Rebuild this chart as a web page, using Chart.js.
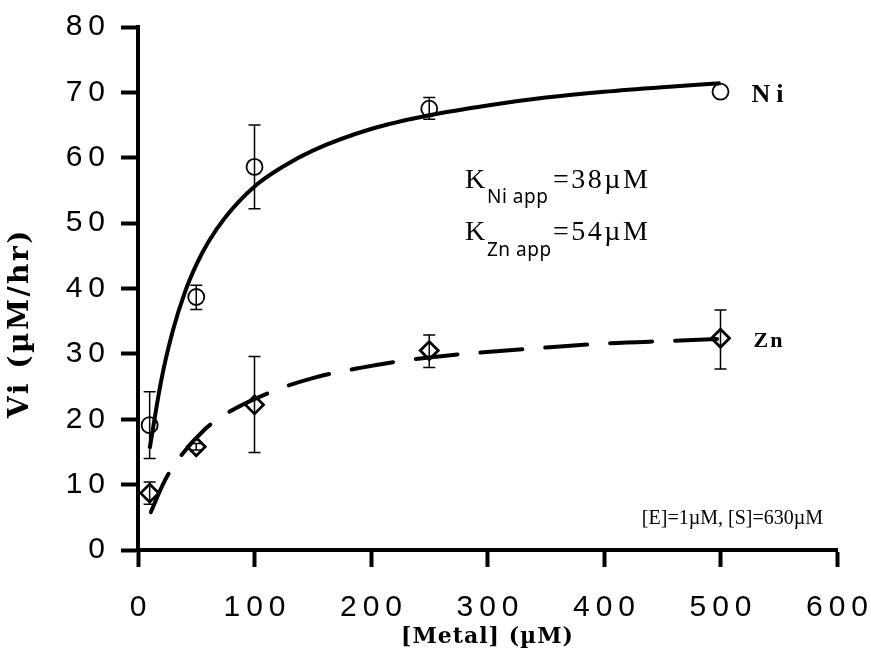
<!DOCTYPE html>
<html>
<head>
<meta charset="utf-8">
<script src="https://cdn.jsdelivr.net/npm/chart.js@4"></script>
<style>
  body { margin: 0; background: #fff; }
  canvas { display: block; }
</style>
</head>
<body>
<canvas id="kinChart" width="871" height="648"></canvas>
<script>
// --- 1. Data ---
const xTicks = [0, 100, 200, 300, 400, 500, 600];
const yTicks = [0, 10, 20, 30, 40, 50, 60, 70, 80];

// measured points (metal concentration, µM)
const metalConc = [10, 50, 100, 250, 500];
const niRate = [19.1, 38.7, 58.6, 67.5, 70.1];
const niLow = [14.0, 36.8, 52.2, 65.9, 70.1];
const niHigh = [24.2, 40.5, 65.0, 69.2, 70.1];
const znRate = [8.7, 15.8, 22.2, 30.5, 32.4];
const znLow = [7.0, 15.3, 14.9, 27.9, 27.7];
const znHigh = [10.4, 16.3, 29.6, 32.9, 36.7];

// fitted curves
const niFitX = [10, 20, 30, 40, 50, 60, 75, 100, 125, 150, 200, 250, 300, 350, 400, 450, 500];
const niFitY = [15.5, 26.0, 33.6, 39.3, 43.6, 47.0, 50.9, 55.6, 58.7, 61.1, 64.4, 66.5, 68.0, 69.2, 70.1, 70.8, 71.4];
const znFitX = [11, 23, 33, 57, 78, 116, 150, 192, 229, 252, 287, 345, 402, 459, 500];
const znFitY = [5.8, 10.6, 13.5, 18.4, 21.1, 24.3, 26.3, 27.9, 29.0, 29.5, 30.1, 30.9, 31.6, 32.0, 32.3];

const toPoints = (xs, ys) => xs.map((x, i) => ({ x: x, y: ys[i] }));

// --- 2. Error bars drawn through the scales ---
const errorBars = {
    id: 'errorBars',
    afterDatasetsDraw(chart) {
        const { ctx, scales: { x, y } } = chart;
        ctx.save();
        ctx.strokeStyle = '#000';
        ctx.lineWidth = 1.5;
        [[niLow, niHigh], [znLow, znHigh]].forEach(([lows, highs]) => {
            metalConc.forEach((c, i) => {
                if (lows[i] === highs[i]) return;
                const px = x.getPixelForValue(c);
                const top = y.getPixelForValue(highs[i]);
                const bot = y.getPixelForValue(lows[i]);
                ctx.beginPath();
                ctx.moveTo(px, top); ctx.lineTo(px, bot);
                ctx.moveTo(px - 6, top); ctx.lineTo(px + 6, top);
                ctx.moveTo(px - 6, bot); ctx.lineTo(px + 6, bot);
                ctx.stroke();
            });
        });
        ctx.restore();
    }
};

// --- 3. Labels, constants and axis titles ---
function drawText(ctx, txt, x, y, font, spacing, align) {
    ctx.font = font;
    ctx.letterSpacing = spacing || '0px';
    ctx.textAlign = align || 'left';
    ctx.fillText(txt, x, y);
}

const annotations = {
    id: 'annotations',
    afterDraw(chart) {
        const { ctx, scales: { x, y } } = chart;
        ctx.save();
        ctx.fillStyle = '#000';
        ctx.textBaseline = 'alphabetic';

        // series names next to the last point
        const lastX = x.getPixelForValue(metalConc[4]);
        drawText(ctx, 'Ni', lastX + 31, y.getPixelForValue(niRate[4]) + 10, 'bold 26px "Liberation Serif"', '6px');
        drawText(ctx, 'Zn', lastX + 33, y.getPixelForValue(znRate[4]) + 9, 'bold 22px "Liberation Serif"', '2px');

        // apparent constants
        drawText(ctx, 'K', 465, 188, '28px "Liberation Serif"', '0px');
        drawText(ctx, 'Ni app', 487, 203, '19px "Noto Sans"', '0.5px');
        drawText(ctx, '=38\u00b5M', 553, 188, '28px "Liberation Serif"', '2.5px');
        drawText(ctx, 'K', 465, 240, '28px "Liberation Serif"', '0px');
        drawText(ctx, 'Zn app', 487, 256, '19px "Noto Sans"', '0.5px');
        drawText(ctx, '=54\u00b5M', 553, 240, '28px "Liberation Serif"', '2.5px');

        // conditions
        drawText(ctx, '[E]=1\u00b5M, [S]=630\u00b5M', 823, 524, '20px "Liberation Serif"', '0px', 'right');

        // axis titles
        drawText(ctx, '[Metal] (\u00b5M)', (chart.chartArea.left + chart.chartArea.right) / 2, 643, 'bold 22px "DejaVu Serif"', '1px', 'center');
        ctx.translate(28, 323);
        ctx.rotate(-Math.PI / 2);
        drawText(ctx, 'Vi (\u00b5M/hr)', 0, 0, 'bold 28px "DejaVu Serif"', '2.5px', 'center');
        ctx.restore();
    }
};

// --- 4. Build the chart ---
const spaced = v => String(v).split('').join('\u2009');
const tickFont = { family: '"Liberation Sans", Arial, sans-serif', size: 30 };

// keep the plot box fixed: no extra room for half-labels
const fixBox = (s, w, h) => {
    if (w) s.width = w;
    if (h) s.height = h;
    s.paddingLeft = s.paddingRight = s.paddingTop = s.paddingBottom = 0;
};

new Chart(document.getElementById('kinChart').getContext('2d'), {
    type: 'scatter',
    data: {
        datasets: [
            {
                label: 'Ni fit',
                data: toPoints(niFitX, niFitY),
                showLine: true,
                borderColor: '#000',
                borderWidth: 4,
                pointRadius: 0,
                cubicInterpolationMode: 'monotone',
                order: 2
            },
            {
                label: 'Zn fit',
                data: toPoints(znFitX, znFitY),
                showLine: true,
                borderColor: '#000',
                borderWidth: 4,
                borderDash: [42, 23],
                borderCapStyle: 'round',
                pointRadius: 0,
                cubicInterpolationMode: 'monotone',
                order: 2
            },
            {
                label: 'Ni',
                data: toPoints(metalConc, niRate),
                pointStyle: 'circle',
                pointRadius: 8,
                borderWidth: 1.8,
                borderColor: '#000',
                backgroundColor: 'rgba(0,0,0,0)',
                order: 1
            },
            {
                label: 'Zn',
                data: toPoints(metalConc, znRate),
                pointStyle: 'rectRot',
                pointRadius: 9,
                borderWidth: 2.8,
                borderColor: '#000',
                backgroundColor: 'rgba(0,0,0,0)',
                order: 1
            }
        ]
    },
    options: {
        responsive: false,
        animation: false,
        layout: { padding: { top: 27, right: 34, left: 0, bottom: 0 } },
        plugins: { legend: { display: false }, tooltip: { enabled: false } },
        scales: {
            x: {
                type: 'linear',
                min: xTicks[0],
                max: xTicks[xTicks.length - 1],
                afterFit: s => fixBox(s, 0, 98),
                afterBuildTicks: s => { s.ticks = xTicks.map(v => ({ value: v })); },
                ticks: { color: '#000', font: tickFont, padding: 23, maxRotation: 0, callback: spaced },
                grid: { drawOnChartArea: false, tickLength: 17, tickWidth: 4, tickColor: '#000' },
                border: { color: '#000', width: 4 }
            },
            y: {
                type: 'linear',
                min: yTicks[0],
                max: yTicks[yTicks.length - 1],
                afterFit: s => fixBox(s, 138, 0),
                afterBuildTicks: s => { s.ticks = yTicks.map(v => ({ value: v })); },
                ticks: { color: '#000', font: tickFont, padding: 16, callback: spaced },
                grid: { drawOnChartArea: false, tickLength: 17, tickWidth: 4, tickColor: '#000' },
                border: { color: '#000', width: 4 }
            }
        }
    },
    plugins: [errorBars, annotations]
});
</script>
</body>
</html>
